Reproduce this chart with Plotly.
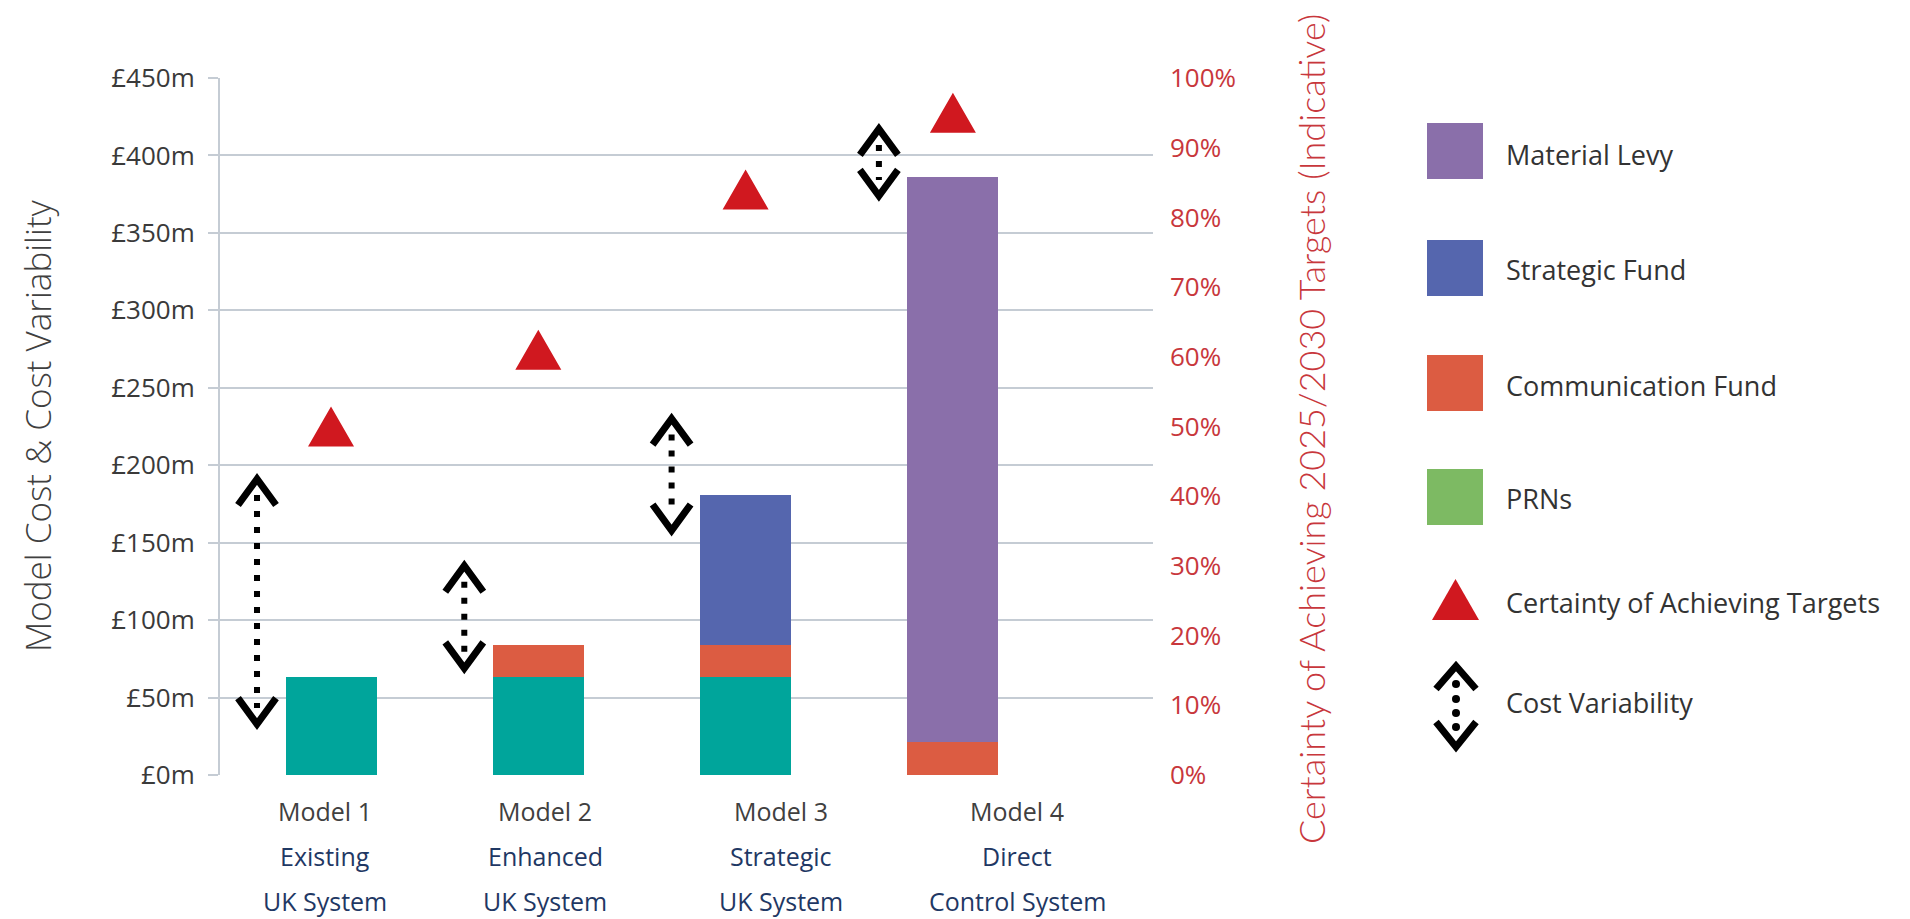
import plotly.graph_objects as go

# ---- data -------------------------------------------------------------
models = ["Model 1", "Model 2", "Model 3", "Model 4"]
system_line1 = ["Existing", "Enhanced", "Strategic", "Direct"]
system_line2 = ["UK System", "UK System", "UK System", "Control System"]

prns = [63, 63, 63, 0]                 # £m
communication_fund = [0, 21, 21, 21]   # £m
strategic_fund = [0, 0, 97, 0]         # £m
material_levy = [0, 0, 0, 365]         # £m

certainty_pct = [50, 61, 84, 95]       # % certainty of achieving targets
cost_low = [29, 65, 154, 370]          # £m, bottom of cost variability range
cost_high = [195, 139, 234, 421]       # £m, top of cost variability range

cost_ticks = [0, 50, 100, 150, 200, 250, 300, 350, 400, 450]
pct_ticks = [0, 10, 20, 30, 40, 50, 60, 70, 80, 90, 100]

# ---- geometry (pixels) --------------------------------------------------
W, H = 1910, 919
PL, PR, PT, PB = 220, 1153, 78, 775
X_RANGE = [0.4645, 4.9653]
Y_MAX = 450
xpos = [1, 2, 3, 4]

px_x = (PR - PL) / (X_RANGE[1] - X_RANGE[0])
px_y = (PB - PT) / Y_MAX
px_p = (PB - PT) / 100.0


def fx(px):
    return (px - PL) / (PR - PL)


def fy(py):
    return (PB - py) / (PB - PT)


C_PRN = "#00a59b"
C_COMM = "#dc5c42"
C_STRAT = "#5566ae"
C_LEVY = "#8a6faa"
C_PRN_KEY = "#7dba63"
C_TRI = "#d0181f"
GRID = "#c5ccd4"
RED_TXT = "#c8373c"
NAVY = "#1f3864"
GREY_TXT = "#404040"

fig = go.Figure()

bar_w = 91 / px_x
for name, vals, col in [("PRNs", prns, C_PRN),
                        ("Communication Fund", communication_fund, C_COMM),
                        ("Strategic Fund", strategic_fund, C_STRAT),
                        ("Material Levy", material_levy, C_LEVY)]:
    fig.add_trace(go.Bar(x=xpos, y=vals, width=bar_w, name=name,
                         marker=dict(color=col, line=dict(width=0)),
                         showlegend=False, hoverinfo="skip"))

# certainty triangles on the percentage axis
tri_hw = 23 / px_x
tri_h = 40 / px_p
tx, ty = [], []
for xv, pv in zip(xpos, certainty_pct):
    tx += [xv - tri_hw, xv + tri_hw, xv, xv - tri_hw, None]
    ty += [pv - tri_h / 2, pv - tri_h / 2, pv + tri_h / 2, pv - tri_h / 2, None]
fig.add_trace(go.Scatter(x=tx, y=ty, yaxis="y2", mode="lines", fill="toself",
                         fillcolor=C_TRI, line=dict(width=0, color=C_TRI),
                         showlegend=False, hoverinfo="skip",
                         name="Certainty of Achieving Targets"))

# cost variability: chevrons at the range ends joined by a dotted line
off = -74 / px_x
tip = 6 / px_y
arm_dx = 19 / px_x
arm_dy = 26 / px_y
dot_in = 22 / px_y
cx, cy, dx_, dy_ = [], [], [], []
for xv, lo, hi in zip(xpos, cost_low, cost_high):
    xa = xv + off
    cx += [xa - arm_dx, xa, xa + arm_dx, None]
    cy += [hi - tip - arm_dy, hi - tip, hi - tip - arm_dy, None]
    cx += [xa - arm_dx, xa, xa + arm_dx, None]
    cy += [lo + tip + arm_dy, lo + tip, lo + tip + arm_dy, None]
    dx_ += [xa, xa, None]
    dy_ += [hi - dot_in, lo + dot_in, None]
fig.add_trace(go.Scatter(x=dx_, y=dy_, mode="lines",
                         line=dict(color="black", width=6, dash="6px,10px"),
                         showlegend=False, hoverinfo="skip"))
fig.add_trace(go.Scatter(x=cx, y=cy, mode="lines",
                         line=dict(color="black", width=7),
                         showlegend=False, hoverinfo="skip",
                         name="Cost Variability"))

annotations = []
# category labels
label_px = [325, 545, 781, 1017]
for lx, m, s1, s2 in zip(label_px, models, system_line1, system_line2):
    annotations.append(dict(x=fx(lx), y=fy(811), xref="paper", yref="paper",
                            text=m, showarrow=False, xanchor="center", yanchor="middle",
                            font=dict(family="Open Sans", size=25, color=GREY_TXT)))
    annotations.append(dict(x=fx(lx), y=fy(856), xref="paper", yref="paper",
                            text=s1, showarrow=False, xanchor="center", yanchor="middle",
                            font=dict(family="Open Sans", size=25, color=NAVY)))
    annotations.append(dict(x=fx(lx), y=fy(901), xref="paper", yref="paper",
                            text=s2, showarrow=False, xanchor="center", yanchor="middle",
                            font=dict(family="Open Sans", size=25, color=NAVY)))

# axis titles
annotations.append(dict(x=fx(37), y=fy(426), xref="paper", yref="paper",
                        text="Model Cost &amp; Cost Variability", textangle=-90,
                        showarrow=False, xanchor="center", yanchor="middle",
                        font=dict(family="Open Sans", size=35, color=GREY_TXT, weight=300)))
annotations.append(dict(x=fx(1311), y=fy(429), xref="paper", yref="paper",
                        text="Certainty of Achieving 2025/2030 Targets (Indicative)",
                        textangle=-90, showarrow=False, xanchor="center", yanchor="middle",
                        font=dict(family="Lato", size=36, color=RED_TXT, weight=300)))

# legend
shapes = []
key_left, key_right = 1427, 1483
text_x = 1504
LEG_FONT = dict(family="Open Sans", size=27, color="#333333")
swatches = [("Material Levy", C_LEVY, 151, 154),
            ("Strategic Fund", C_STRAT, 268, 269),
            ("Communication Fund", C_COMM, 383, 385),
            ("PRNs", C_PRN_KEY, 497, 498)]
for name, col, yc, yt in swatches:
    shapes.append(dict(type="rect", xref="paper", yref="paper",
                       x0=fx(key_left), x1=fx(key_right), y0=fy(yc - 28), y1=fy(yc + 28),
                       fillcolor=col, line=dict(width=0)))
    annotations.append(dict(x=fx(text_x), y=fy(yt), xref="paper", yref="paper",
                            text=name, showarrow=False, xanchor="left", yanchor="middle",
                            font=LEG_FONT))

shapes.append(dict(type="path", xref="paper", yref="paper",
                   path="M {0},{1} L {2},{1} L {3},{4} Z".format(
                       fx(1432), fy(620), fx(1479), fx(1455.5), fy(579)),
                   fillcolor=C_TRI, line=dict(width=0)))
annotations.append(dict(x=fx(text_x), y=fy(602), xref="paper", yref="paper",
                        text="Certainty of Achieving Targets", showarrow=False,
                        xanchor="left", yanchor="middle", font=LEG_FONT))

shapes.append(dict(type="path", xref="paper", yref="paper",
                   path="M {0},{1} L {2},{3} L {4},{1}".format(
                       fx(1436), fy(689), fx(1456), fy(666), fx(1476)),
                   line=dict(color="black", width=7)))
shapes.append(dict(type="path", xref="paper", yref="paper",
                   path="M {0},{1} L {2},{3} L {4},{1}".format(
                       fx(1436), fy(722), fx(1456), fy(747), fx(1476)),
                   line=dict(color="black", width=7)))
for dy in [684, 699, 713, 727]:
    shapes.append(dict(type="circle", xref="paper", yref="paper",
                       x0=fx(1452), x1=fx(1460), y0=fy(dy - 4), y1=fy(dy + 4),
                       fillcolor="black", line=dict(width=0)))
annotations.append(dict(x=fx(text_x), y=fy(702), xref="paper", yref="paper",
                        text="Cost Variability", showarrow=False,
                        xanchor="left", yanchor="middle", font=LEG_FONT))

fig.update_layout(
    width=W, height=H,
    margin=dict(l=PL, r=W - PR, t=PT, b=H - PB, pad=0),
    paper_bgcolor="white", plot_bgcolor="white",
    barmode="stack", bargap=0,
    showlegend=False,
    xaxis=dict(range=X_RANGE, showgrid=False, zeroline=False, showline=False,
               showticklabels=False, ticks=""),
    yaxis=dict(range=[0, Y_MAX], tickvals=cost_ticks,
               ticktext=["£{}m".format(v) for v in cost_ticks],
               showgrid=True, gridcolor=GRID, gridwidth=2,
               zeroline=False, showline=True, linecolor=GRID, linewidth=2,
               ticks="outside", ticklen=10, tickwidth=2, tickcolor=GRID,
               ticklabelstandoff=8,
               tickfont=dict(family="Open Sans", size=26, color="#3a3a3a")),
    yaxis2=dict(range=[0, 100], overlaying="y", side="right",
                tickvals=pct_ticks, ticktext=["{}%".format(v) for v in pct_ticks],
                showgrid=False, zeroline=False, showline=False, ticks="",
                ticklabelstandoff=16,
                tickfont=dict(family="Open Sans", size=26, color=RED_TXT)),
    annotations=annotations,
    shapes=shapes,
)

fig.write_html("out.html")
